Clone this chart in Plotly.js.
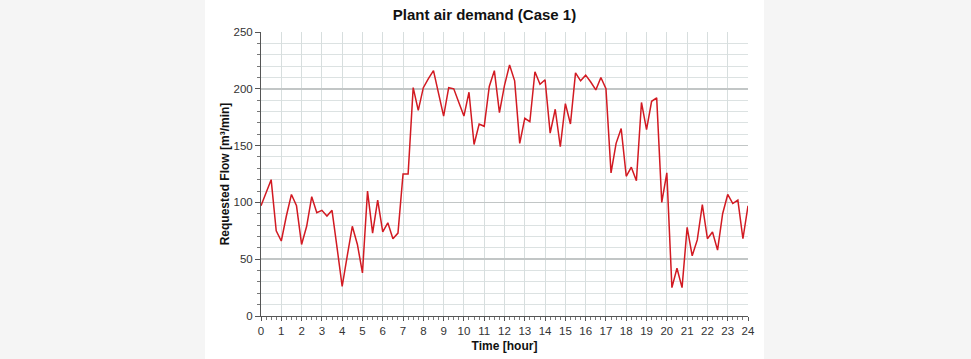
<!DOCTYPE html>
<html>
<head>
<meta charset="utf-8">
<script src="https://cdn.plot.ly/plotly-3.0.1.min.js"></script>
<style>
  html, body { margin: 0; padding: 0; background: #f5f5f5; width: 971px; height: 359px; overflow: hidden; }
  #chart { position: absolute; left: 205px; top: 0; width: 559px; height: 359px; background: #ffffff; }
</style>
</head>
<body>
<div id="chart"></div>
<script>
// Time in hours (15-minute steps)
const timeHours = [
  0, 0.25, 0.5, 0.75, 1, 1.25, 1.5, 1.75, 2, 2.25, 2.5, 2.75, 3, 3.25, 3.5, 3.75,
  4, 4.25, 4.5, 4.75, 5, 5.25, 5.5, 5.75, 6, 6.25, 6.5, 6.75, 7, 7.25, 7.5, 7.75,
  8, 8.25, 8.5, 8.75, 9, 9.25, 9.5, 9.75, 10, 10.25, 10.5, 10.75, 11, 11.25, 11.5, 11.75,
  12, 12.25, 12.5, 12.75, 13, 13.25, 13.5, 13.75, 14, 14.25, 14.5, 14.75, 15, 15.25, 15.5, 15.75,
  16, 16.25, 16.5, 16.75, 17, 17.25, 17.5, 17.75, 18, 18.25, 18.5, 18.75, 19, 19.25, 19.5, 19.75,
  20, 20.25, 20.5, 20.75, 21, 21.25, 21.5, 21.75, 22, 22.25, 22.5, 22.75, 23, 23.25, 23.5, 23.75, 24
];
// Requested flow [m3/min]
const requestedFlow = [
  97, 108, 120, 75, 66, 88, 107, 97, 63, 79, 105, 91, 93, 88, 93, 60,
  26, 53, 79, 63, 38, 110, 73, 102, 74, 82, 68, 73, 125, 125, 201, 181,
  201, 209, 216, 196, 176, 201, 200, 188, 176, 197, 151, 169, 167, 202, 216, 179,
  203, 221, 207, 152, 174, 171, 215, 204, 208, 161, 182, 149, 187, 169, 214, 207,
  212, 206, 199, 210, 200, 126, 152, 165, 123, 131, 119, 188, 164, 189, 192, 100,
  126, 25, 42, 25, 78, 53, 67, 98, 68, 74, 58, 90, 107, 99, 102, 68, 97
];
const xTickVals = [0,1,2,3,4,5,6,7,8,9,10,11,12,13,14,15,16,17,18,19,20,21,22,23,24];
const yTickVals = [0, 50, 100, 150, 200, 250];

const fontFam = '"Liberation Sans", "DejaVu Sans", sans-serif';

const trace = {
  x: timeHours,
  y: requestedFlow,
  type: 'scatter',
  mode: 'lines',
  line: { color: '#d21a22', width: 1.5 },
  hoverinfo: 'x+y'
};

const layout = {
  width: 559,
  height: 359,
  margin: { l: 56, r: 16, t: 32, b: 43 },
  paper_bgcolor: '#ffffff',
  plot_bgcolor: '#ffffff',
  showlegend: false,
  font: { family: fontFam, size: 11, color: '#333333' },
  title: {
    text: '<b>Plant air demand (Case 1)</b>',
    font: { family: fontFam, size: 15, color: '#111111' },
    x: 0.5, xref: 'container', xanchor: 'center',
    y: 1 - 15/359, yref: 'container', yanchor: 'middle'
  },
  xaxis: {
    range: [0, 24],
    tickmode: 'array',
    tickvals: xTickVals,
    ticktext: xTickVals.map(String),
    ticks: 'outside', ticklen: 4, tickcolor: '#555555', tickwidth: 1,
    showline: true, linecolor: '#555555', linewidth: 1,
    showgrid: true, gridcolor: '#d7dede', gridwidth: 1,
    zeroline: false,
    minor: { dtick: 0.25, tick0: 0, ticks: 'outside', ticklen: 3, tickcolor: '#777777', showgrid: false },
    tickfont: { family: fontFam, size: 11.5, color: '#333333' },
    title: { text: '<b>Time [hour]</b>', font: { family: fontFam, size: 12, color: '#111111' }, standoff: 5 }
  },
  yaxis: {
    range: [0, 250],
    tickmode: 'array',
    tickvals: yTickVals,
    ticktext: yTickVals.map(String),
    ticks: 'outside', ticklen: 5, tickcolor: '#555555', tickwidth: 1,
    showline: true, linecolor: '#555555', linewidth: 1,
    showgrid: true, gridcolor: '#c2c6c6', gridwidth: 1.5,
    zeroline: false,
    minor: { dtick: 10, tick0: 0, ticks: 'outside', ticklen: 3, tickcolor: '#777777', showgrid: true, gridcolor: '#dce2e2', gridwidth: 1 },
    tickfont: { family: fontFam, size: 11.5, color: '#333333' },
    title: { text: '<b>Requested Flow [m³/min]</b>', font: { family: fontFam, size: 12, color: '#111111' }, standoff: 1 }
  }
};

Plotly.newPlot('chart', [trace], layout, { displayModeBar: false, staticPlot: true });
</script>
</body>
</html>
